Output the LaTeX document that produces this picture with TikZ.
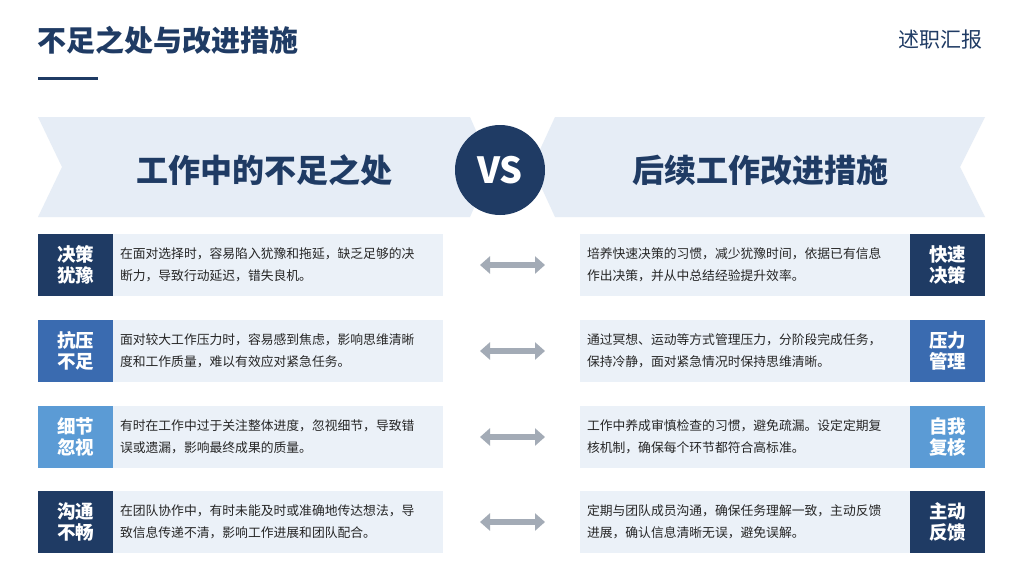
\documentclass[tikz,border=0pt]{standalone}
\usepackage{fontspec}
\setmainfont{Noto Sans CJK SC}
\usetikzlibrary{arrows.meta}
\definecolor{dk}{HTML}{1F3B64}
\definecolor{md}{HTML}{3A6BB0}
\definecolor{lt}{HTML}{5B9BD5}
\definecolor{pale}{HTML}{EBF1F8}
\definecolor{ban}{HTML}{E6EDF6}
\definecolor{arr}{HTML}{A3ABB6}
\begin{document}
\begin{tikzpicture}[x=1pt,y=-1pt,
  lab/.style={minimum width=75pt,minimum height=62pt,inner sep=0pt,text=white,font=\fontsize{18.5}{21}\selectfont\bfseries,align=center},
  txt/.style={fill=pale,minimum width=330pt,minimum height=62pt,inner sep=0pt,text=black!85,font=\fontsize{12.8}{22}\selectfont,align=left,text width=316pt},
  dbl/.style={arr,line width=6pt,{Triangle[length=10pt,width=17pt]}-{Triangle[length=10pt,width=17pt]}}]
\useasboundingbox (0,0) rectangle (1024,576);
\fill[white] (0,0) rectangle (1024,576);
\node[anchor=west,text=dk,font=\fontsize{29}{33}\selectfont\bfseries] (title) at (34,40) {不足之处与改进措施};
\draw[dk,line width=3pt] (38,78) -- (98,78);
\node[anchor=east,text=dk,font=\fontsize{21}{24}\selectfont] (rep) at (986,40) {述职汇报};
\fill[ban] (38,117) -- (470,117) -- (492,167) -- (470,217) -- (38,217) -- (62,167) -- cycle;
\fill[ban] (985,117) -- (555,117) -- (532,167) -- (555,217) -- (985,217) -- (960,167) -- cycle;
\node[text=dk,font=\fontsize{32}{36}\selectfont\bfseries] (lh) at (264,170) {工作中的不足之处};
\node[text=dk,font=\fontsize{32}{36}\selectfont\bfseries] (rh) at (760,170) {后续工作改进措施};
\node[circle,fill=dk,minimum size=90pt,text=white,font=\fontsize{36}{40}\selectfont\bfseries] (vs) at (500,170) {VS};
\foreach \y/\c/\la/\ta/\ra/\tb [count=\i] in {
 265/dk/决策\\犹豫/在面对选择时，容易陷入犹豫和拖延，缺乏足够的决\\断力，导致行动延迟，错失良机。/快速\\决策/培养快速决策的习惯，减少犹豫时间，依据已有信息\\作出决策，并从中总结经验提升效率。,
 351/md/抗压\\不足/面对较大工作压力时，容易感到焦虑，影响思维清晰\\度和工作质量，难以有效应对紧急任务。/压力\\管理/通过冥想、运动等方式管理压力，分阶段完成任务，\\保持冷静，面对紧急情况时保持思维清晰。,
 437/lt/细节\\忽视/有时在工作中过于关注整体进度，忽视细节，导致错\\误或遗漏，影响最终成果的质量。/自我\\复核/工作中养成审慎检查的习惯，避免疏漏。设定定期复\\核机制，确保每个环节都符合高标准。,
 522/dk/沟通\\不畅/在团队协作中，有时未能及时或准确地传达想法，导\\致信息传递不清，影响工作进展和团队配合。/主动\\反馈/定期与团队成员沟通，确保任务理解一致，主动反馈\\进展，确认信息清晰无误，避免误解。}{
  \node[txt] (lt\i) at (278,\y) {\ta};
  \node[lab,fill=\c] (ll\i) at (75.5,\y) {\la};
  \node[txt] (rt\i) at (745,\y) {\tb};
  \node[lab,fill=\c] (rl\i) at (947.5,\y) {\ra};
  \coordinate (a\i) at (480,\y);
  \coordinate (b\i) at (545,\y);
  \draw[dbl] (a\i) -- (b\i);
}
\end{tikzpicture}
\end{document}
